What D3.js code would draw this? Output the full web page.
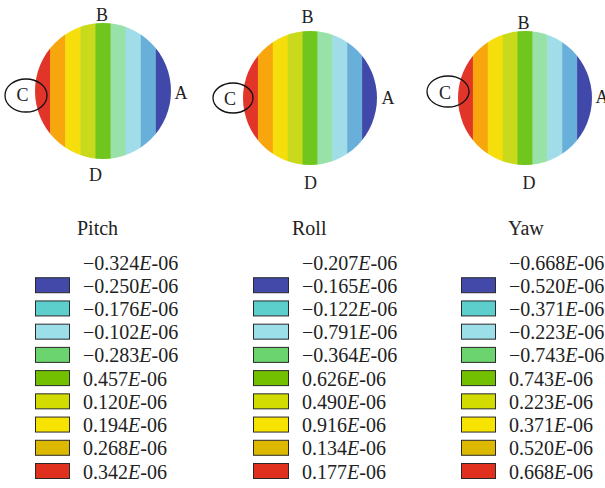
<!DOCTYPE html>
<html>
<head>
<meta charset="utf-8">
<script src="https://cdn.jsdelivr.net/npm/d3@7"></script>
<style>
    body { margin: 0; background: #fff; }
    svg { display: block; }
    text { font-family: "Liberation Serif", "Times New Roman", serif; fill: #222; }
</style>
</head>
<body>
<div id="chart"></div>
<script>
// Panel names
const panels = ['Pitch', 'Roll', 'Yaw'];

// Contour level labels (mantissa of x E-06), top to bottom
const pitchLevels = ['−0.324', '−0.250', '−0.176', '−0.102', '−0.283', '0.457', '0.120', '0.194', '0.268', '0.342'];
const rollLevels = ['−0.207', '−0.165', '−0.122', '−0.791', '−0.364', '0.626', '0.490', '0.916', '0.134', '0.177'];
const yawLevels = ['−0.668', '−0.520', '−0.371', '−0.223', '−0.743', '0.743', '0.223', '0.371', '0.520', '0.668'];

// Legend swatch colours, top (blue) to bottom (red)
const legendColors = ['#4349a8', '#5ccfcd', '#9ddfe9', '#6cd46e', '#72c000', '#d2dc00', '#f6e300', '#dcb900', '#e0311f'];

// Stripe colours across each disc, left (C side) to right (A side)
const stripeColors = ['#e1342a', '#f7a60a', '#f6de08', '#c9da1a', '#6fc61c', '#98e2aa', '#a0dde8', '#67afd9', '#4149a9'];

// Point labels on each disc
const pointLabels = ['A', 'B', 'C', 'D'];

const levelsByPanel = [pitchLevels, rollLevels, yawLevels];

// Layout of each panel (pixel positions)
const layout = [
    { cx: 103, cy: 91, r: 68,
      lab: { A: [181, 93], B: [102, 15], C: [22.5, 95], D: [95.5, 175] }, ell: [26, 95.5, 21, 16.5],
      titleX: 77, swX: 35, swW: 35, textX: 83 },
    { cx: 310, cy: 98, r: 67,
      lab: { A: [388, 97.5], B: [307.5, 16.5], C: [230, 99], D: [310.5, 183] }, ell: [233, 98, 20, 15],
      titleX: 292, swX: 253, swW: 36, textX: 302 },
    { cx: 525, cy: 98, r: 67,
      lab: { A: [602, 97], B: [523.5, 23], C: [445, 92.5], D: [529, 183] }, ell: [448, 91.5, 21, 15.5],
      titleX: 508, swX: 461, swW: 35, textX: 509 }
];

const width = 605, height = 488;

const svg = d3.select('#chart')
    .append('svg')
    .attr('width', width)
    .attr('height', height);

const defs = svg.append('defs');
defs.append('filter')
    .attr('id', 'soft')
    .append('feGaussianBlur')
    .attr('stdDeviation', 0.5);

const stripeColor = d3.scaleOrdinal()
    .domain(d3.range(stripeColors.length))
    .range(stripeColors);

// Legend rows
const rowY = d3.scaleLinear()
    .domain([0, 9])
    .range([269.5, 478.5]);

panels.forEach((name, p) => {
    const L = layout[p];
    const g = svg.append('g').attr('class', 'panel-' + name.toLowerCase());

    // Disc made of vertical stripes
    defs.append('clipPath')
        .attr('id', 'disc-' + p)
        .append('circle')
        .attr('cx', L.cx)
        .attr('cy', L.cy)
        .attr('r', L.r);

    const x = d3.scaleBand()
        .domain(d3.range(stripeColors.length))
        .range([L.cx - L.r, L.cx + L.r]);

    g.append('g')
        .attr('clip-path', `url(#disc-${p})`)
        .attr('filter', 'url(#soft)')
        .selectAll('rect')
        .data(d3.range(stripeColors.length))
        .join('rect')
        .attr('x', d => x(d))
        .attr('y', L.cy - L.r)
        .attr('width', x.bandwidth() + 0.5)
        .attr('height', 2 * L.r)
        .attr('fill', d => stripeColor(d));

    // Ellipse round C
    g.append('ellipse')
        .attr('cx', L.ell[0])
        .attr('cy', L.ell[1])
        .attr('rx', L.ell[2])
        .attr('ry', L.ell[3])
        .attr('fill', 'none')
        .attr('stroke', '#111')
        .attr('stroke-width', 1.3);

    // Point labels
    g.selectAll('text.pt')
        .data(pointLabels)
        .join('text')
        .attr('class', 'pt')
        .attr('x', d => L.lab[d][0])
        .attr('y', d => L.lab[d][1])
        .attr('text-anchor', 'middle')
        .attr('dominant-baseline', 'central')
        .style('font-size', '18px')
        .text(d => d);

    // Legend title
    g.append('text')
        .attr('x', L.titleX)
        .attr('y', 235)
        .style('font-size', '20px')
        .text(name);

    const levels = levelsByPanel[p];

    // Swatches (one per band, between level rows)
    g.selectAll('rect.sw')
        .data(legendColors)
        .join('rect')
        .attr('class', 'sw')
        .attr('x', L.swX + 0.5)
        .attr('y', (d, i) => rowY(i + 1) - 15)
        .attr('width', L.swW - 1)
        .attr('height', 15)
        .attr('fill', d => d)
        .attr('stroke', '#2a2a2a')
        .attr('stroke-width', 1);

    // Level labels
    const labels = g.selectAll('text.lv')
        .data(levels)
        .join('text')
        .attr('class', 'lv')
        .attr('x', L.textX)
        .attr('y', (d, i) => rowY(i))
        .style('font-size', '20px');

    labels.append('tspan').text(d => d);
    labels.append('tspan').style('font-style', 'italic').text('E');
    labels.append('tspan').text('-06');
});
</script>
</body>
</html>
